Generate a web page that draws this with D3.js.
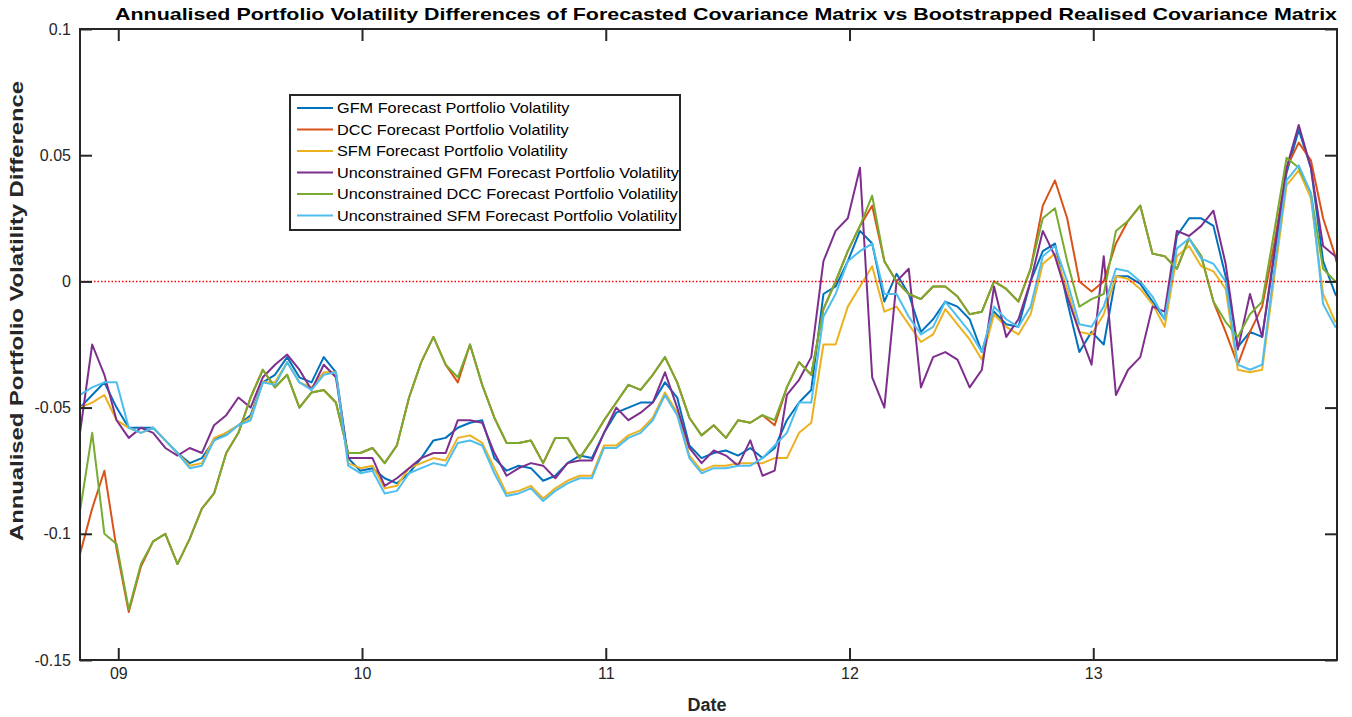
<!DOCTYPE html>
<html><head><meta charset="utf-8">
<script src="https://cdn.jsdelivr.net/npm/d3@7"></script>
<style>body{margin:0;background:#fff}text{font-family:Arial,"Liberation Sans",sans-serif}</style>
</head><body><svg id="c" width="1352" height="717"></svg>
<script>
const startYear = 2008.843, stepYear = 0.05;
const yTicks = [0.1, 0.05, 0, -0.05, -0.1, -0.15];
const yTickLabels = ["0.1","0.05","0","-0.05","-0.1","-0.15"];
const xTicks = [2009, 2010, 2011, 2012, 2013];
const xTickLabels = ["09","10","11","12","13"];
const seriesNames = ["GFM Forecast Portfolio Volatility","DCC Forecast Portfolio Volatility","SFM Forecast Portfolio Volatility","Unconstrained GFM Forecast Portfolio Volatility","Unconstrained DCC Forecast Portfolio Volatility","Unconstrained SFM Forecast Portfolio Volatility"];
const seriesColors = ["#0072BD","#D95319","#EDB120","#7E2F8E","#77AC30","#4DBEEE"];

const gfm = [-0.05,-0.045,-0.04,-0.05,-0.058,-0.058,-0.058,-0.063,-0.068,-0.072,-0.07,-0.063,-0.06,-0.057,-0.053,-0.04,-0.037,-0.03,-0.038,-0.04,-0.03,-0.036,-0.07,-0.075,-0.074,-0.078,-0.08,-0.076,-0.07,-0.063,-0.062,-0.058,-0.056,-0.055,-0.07,-0.075,-0.073,-0.074,-0.079,-0.077,-0.072,-0.069,-0.07,-0.06,-0.052,-0.05,-0.048,-0.048,-0.04,-0.046,-0.065,-0.07,-0.068,-0.067,-0.069,-0.066,-0.07,-0.066,-0.055,-0.048,-0.043,-0.005,-0.002,0.008,0.02,0.015,
 -0.008,0.003,-0.005,-0.02,-0.015,-0.008,-0.01,-0.015,-0.028,-0.012,-0.017,-0.018,0.0,0.012,0.015,-0.008,-0.028,-0.02,-0.025,0.002,0.002,-0.001,-0.008,-0.015,0.018,0.025,0.025,0.022,0.002,-0.026,-0.02,-0.022,0.01,0.043,0.06,0.045,0.008,-0.005,-0.011];
const uncDcc = [-0.091,-0.06,-0.1,-0.104,-0.13,-0.112,-0.103,-0.1,-0.112,-0.102,-0.09,-0.084,-0.068,-0.06,-0.046,-0.035,-0.042,-0.037,-0.05,-0.044,-0.043,-0.048,-0.068,-0.068,-0.066,-0.072,-0.065,-0.046,-0.032,-0.022,-0.033,-0.038,-0.025,-0.041,-0.054,-0.064,-0.064,-0.063,-0.072,-0.062,-0.062,-0.07,-0.063,-0.055,-0.048,-0.041,-0.043,-0.037,-0.03,-0.04,-0.054,-0.061,-0.057,-0.062,-0.055,-0.056,-0.053,-0.055,-0.042,-0.032,-0.037,-0.011,0.0,0.012,0.022,0.034,
 0.008,0.0,-0.005,-0.007,-0.002,-0.002,-0.006,-0.013,-0.012,0.0,-0.003,-0.008,0.005,0.025,0.029,0.008,-0.01,-0.007,-0.005,0.02,0.024,0.03,0.011,0.01,0.005,0.017,0.01,-0.008,-0.016,-0.022,-0.013,-0.008,0.02,0.049,0.045,0.035,0.005,0.0,0.002];
const dcc = [-0.108,-0.09,-0.075,-0.106,-0.131,-0.113,-0.103,-0.1,-0.112,-0.102,-0.09,-0.084,-0.068,-0.06,-0.046,-0.035,-0.042,-0.037,-0.05,-0.044,-0.043,-0.048,-0.068,-0.068,-0.066,-0.072,-0.065,-0.046,-0.032,-0.022,-0.033,-0.04,-0.025,-0.041,-0.054,-0.064,-0.064,-0.063,-0.072,-0.062,-0.062,-0.07,-0.063,-0.055,-0.048,-0.041,-0.043,-0.037,-0.03,-0.04,-0.054,-0.061,-0.057,-0.062,-0.055,-0.056,-0.053,-0.057,-0.042,-0.032,-0.037,-0.011,0.0,0.012,0.022,0.03,
 0.008,0.0,-0.005,-0.007,-0.002,-0.002,-0.006,-0.013,-0.012,0.0,-0.003,-0.008,0.005,0.03,0.04,0.025,0.0,-0.004,0.0,0.015,0.024,0.03,0.011,0.01,0.005,0.017,0.01,-0.008,-0.02,-0.033,-0.02,-0.01,0.015,0.045,0.055,0.048,0.025,0.01,0.003];
const uncSfm = [-0.045,-0.042,-0.04,-0.04,-0.058,-0.06,-0.058,-0.063,-0.068,-0.074,-0.073,-0.063,-0.061,-0.057,-0.055,-0.04,-0.041,-0.032,-0.04,-0.043,-0.037,-0.036,-0.073,-0.076,-0.075,-0.084,-0.083,-0.076,-0.074,-0.072,-0.073,-0.064,-0.063,-0.065,-0.076,-0.085,-0.084,-0.082,-0.087,-0.083,-0.08,-0.078,-0.078,-0.066,-0.066,-0.062,-0.06,-0.055,-0.045,-0.053,-0.07,-0.076,-0.074,-0.074,-0.073,-0.073,-0.07,-0.065,-0.06,-0.048,-0.048,-0.014,-0.005,0.008,0.012,0.015,
 -0.005,-0.005,-0.014,-0.021,-0.018,-0.008,-0.014,-0.02,-0.028,-0.01,-0.015,-0.018,-0.01,0.01,0.014,0.0,-0.017,-0.018,-0.01,0.005,0.004,0.0,-0.006,-0.015,0.013,0.017,0.009,0.007,0.0,-0.033,-0.035,-0.033,0.005,0.04,0.046,0.035,-0.009,-0.018,-0.015];
const sfm = [-0.05,-0.048,-0.045,-0.055,-0.058,-0.06,-0.058,-0.063,-0.068,-0.073,-0.072,-0.062,-0.06,-0.057,-0.054,-0.04,-0.04,-0.032,-0.04,-0.042,-0.036,-0.036,-0.072,-0.074,-0.073,-0.082,-0.081,-0.074,-0.072,-0.07,-0.071,-0.062,-0.061,-0.064,-0.074,-0.084,-0.083,-0.081,-0.086,-0.082,-0.079,-0.077,-0.077,-0.065,-0.065,-0.061,-0.059,-0.054,-0.044,-0.052,-0.069,-0.075,-0.073,-0.073,-0.072,-0.072,-0.072,-0.07,-0.07,-0.06,-0.056,-0.025,-0.025,-0.01,-0.002,0.006,
 -0.012,-0.01,-0.017,-0.024,-0.021,-0.011,-0.017,-0.023,-0.031,-0.013,-0.018,-0.021,-0.013,0.007,0.011,-0.003,-0.02,-0.021,-0.013,0.002,0.001,-0.003,-0.009,-0.018,0.01,0.014,0.006,0.004,-0.003,-0.035,-0.036,-0.035,0.002,0.038,0.044,0.033,-0.005,-0.016,-0.013];
const uncGfm = [-0.06,-0.025,-0.037,-0.055,-0.062,-0.058,-0.06,-0.066,-0.069,-0.066,-0.068,-0.057,-0.053,-0.046,-0.05,-0.038,-0.033,-0.029,-0.035,-0.043,-0.033,-0.038,-0.07,-0.07,-0.07,-0.081,-0.078,-0.074,-0.07,-0.068,-0.068,-0.055,-0.055,-0.056,-0.068,-0.077,-0.074,-0.072,-0.073,-0.078,-0.072,-0.071,-0.071,-0.06,-0.05,-0.055,-0.052,-0.048,-0.036,-0.05,-0.066,-0.072,-0.067,-0.069,-0.073,-0.063,-0.077,-0.075,-0.045,-0.039,-0.03,0.008,0.02,0.025,0.045,-0.038,
 -0.05,0.0,0.005,-0.042,-0.03,-0.028,-0.031,-0.042,-0.035,-0.002,-0.022,-0.015,0.0,0.02,0.01,-0.006,-0.02,-0.033,0.01,-0.045,-0.035,-0.03,-0.01,-0.012,0.02,0.018,0.022,0.028,0.007,-0.027,-0.005,-0.022,0.012,0.045,0.062,0.045,0.014,0.01,-0.01];

const allSeries = [gfm, dcc, sfm, uncGfm, uncDcc, uncSfm];
const dates = d3.range(gfm.length).map(i => startYear + stepYear * i);

const svg = d3.select("#c");
const m = {l:80, r:1337, t:29, b:660};
const x = d3.scaleLinear().domain([startYear, 2014.0]).range([m.l, m.r]);
const y = d3.scaleLinear().domain([-0.15, 0.1]).range([m.b, m.t]);

svg.append("defs").append("clipPath").attr("id","clip").append("rect")
  .attr("x",m.l).attr("y",m.t).attr("width",m.r-m.l).attr("height",m.b-m.t);

const g = svg.append("g").attr("clip-path","url(#clip)");
const line = d3.line().x((d,i)=>x(dates[i])).y(d=>y(d));
allSeries.forEach((s,j)=>{
  g.append("path").datum(s).attr("d",line).attr("fill","none")
   .attr("stroke",seriesColors[j]).attr("stroke-width",2).attr("stroke-linejoin","round");
});
svg.append("line").attr("x1",m.l).attr("x2",m.r).attr("y1",y(0)).attr("y2",y(0))
  .attr("stroke","#ff0000").attr("stroke-width",1.5).attr("stroke-dasharray","1.5,2");

const ax = svg.append("g");
ax.append("g").attr("transform",`translate(${m.l},0)`)
  .call(d3.axisLeft(y).tickValues(yTicks).tickFormat((d,i)=>yTickLabels[i]).tickSizeInner(-12).tickSizeOuter(0).tickPadding(9));
ax.append("g").attr("transform",`translate(${m.r},0)`)
  .call(d3.axisRight(y).tickValues(yTicks).tickFormat("").tickSizeInner(-12).tickSizeOuter(0));
ax.append("g").attr("transform",`translate(0,${m.b})`)
  .call(d3.axisBottom(x).tickValues(xTicks).tickFormat((d,i)=>xTickLabels[i]).tickSizeInner(-12).tickSizeOuter(0).tickPadding(8));
ax.append("g").attr("transform",`translate(0,${m.t})`)
  .call(d3.axisTop(x).tickValues(xTicks).tickFormat("").tickSizeInner(-12).tickSizeOuter(0));
ax.selectAll(".domain").remove();
ax.selectAll(".tick line").attr("stroke","#262626").attr("stroke-width",2);
ax.selectAll(".tick text").attr("font-size",16).attr("fill","#262626");
svg.append("rect").attr("x",m.l).attr("y",m.t).attr("width",m.r-m.l).attr("height",m.b-m.t)
  .attr("fill","none").attr("stroke","#262626").attr("stroke-width",2);

svg.append("text").attr("x",726).attr("y",20).attr("text-anchor","middle")
  .attr("font-size",17).attr("font-weight","bold").attr("fill","#000")
  .attr("textLength",1222).attr("lengthAdjust","spacingAndGlyphs")
  .text("Annualised Portfolio Volatility Differences of Forecasted Covariance Matrix vs Bootstrapped Realised Covariance Matrix");
svg.append("text").attr("x",707).attr("y",711).attr("text-anchor","middle")
  .attr("font-size",18).attr("font-weight","bold").attr("fill","#262626").text("Date");
svg.append("text").attr("transform",`translate(23,311) rotate(-90)`).attr("text-anchor","middle")
  .attr("font-size",18).attr("font-weight","bold").attr("fill","#262626")
  .attr("textLength",460).attr("lengthAdjust","spacingAndGlyphs")
  .text("Annualised Portfolio Volatility Difference");

const lg = svg.append("g");
lg.append("rect").attr("x",290).attr("y",95).attr("width",390).attr("height",135)
  .attr("fill","#fff").attr("stroke","#262626").attr("stroke-width",2);
seriesNames.forEach((n,j)=>{
  const yy = 108 + j*21.5;
  lg.append("line").attr("x1",297).attr("x2",333).attr("y1",yy).attr("y2",yy)
    .attr("stroke",seriesColors[j]).attr("stroke-width",2);
  const t = lg.append("text").attr("x",337).attr("y",yy+5).attr("font-size",15).attr("fill","#000").text(n);
  const w = t.node().getComputedTextLength();
  t.attr("textLength", w*1.085).attr("lengthAdjust","spacingAndGlyphs");
});
</script></body></html>
